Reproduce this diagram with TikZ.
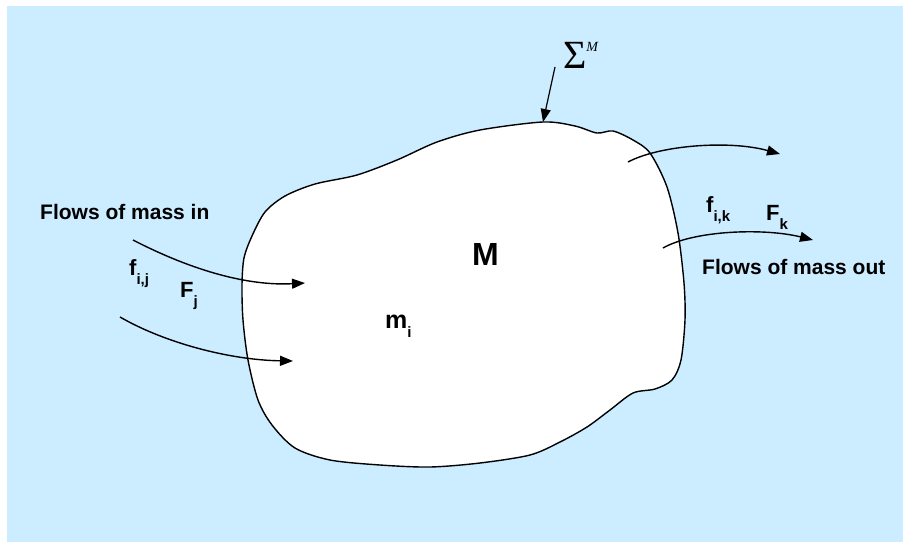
\documentclass[tikz,border=0pt]{standalone}
\usepackage{fontspec}
\setmainfont{Liberation Sans}
\newfontfamily\sigmafont{Liberation Serif}
\usepackage{tikz}
\usetikzlibrary{arrows.meta}
\definecolor{skyback}{RGB}{204,236,255}
\newcommand{\flowsub}[1]{\raisebox{-9pt}{\fontsize{15}{15}\selectfont #1}}

\begin{document}
\begin{tikzpicture}[x=1pt,y=-1pt,>={Triangle[length=13pt,width=10pt]},
  lbl/.style={inner sep=0pt,anchor=base west,font=\fontsize{21}{25}\selectfont\bfseries},
  sym/.style={inner sep=0pt,anchor=base west,font=\fontsize{22}{26}\selectfont\bfseries},
  flow/.style={->,line width=1.4pt}]
  \useasboundingbox (0,0) rectangle (903,542);
  \fill[skyback] (7,6) rectangle (903,542);

  % control volume M
  \draw[line width=1.4pt,fill=white] plot[smooth cycle,tension=0.5] coordinates {
    (543,122) (575,126) (597,133) (613,131) (633,140) (650,153) (667,187)
    (678,233) (684,283) (685,320) (681,360) (672,380) (655,389) (633,393)
    (610,410) (587,427) (560,442) (530,455) (480,463) (430,467) (380,465)
    (330,460) (295,448) (272,425) (258,400) (248,360) (243,320) (242,285)
    (244,258) (252,236) (265,212) (285,196) (315,184) (357,175) (397,160)
    (437,142) (480,130)};

  % labels
  \node[sym,font=\fontsize{32}{36}\selectfont\bfseries] (bigM) at (472,265) {M};
  \node[sym,font=\fontsize{25}{28}\selectfont\bfseries] (mi) at (385,328) {m\flowsub{i}};
  \node[lbl] (inlbl) at (40,219) {Flows of mass in};
  \node[lbl] (outlbl) at (702,274) {Flows of mass out};
  \node[sym] (fij) at (129,275) {f\flowsub{i,j}};
  \node[sym] (Fj) at (180,297) {F\flowsub{j}};
  \node[sym] (fik) at (706,212) {f\flowsub{i,k}};
  \node[sym] (Fk) at (766,220) {F\flowsub{k}};
  \node[inner sep=0pt,anchor=base west,font=\sigmafont\fontsize{40}{40}\selectfont] (sig) at (563,68)
    {Σ\raisebox{17pt}{\fontsize{14}{14}\selectfont\itshape M}};

  % boundary arrow
  \coordinate (sigA) at (555,67);
  \coordinate (sigB) at (543,122);
  \draw[flow,line width=1.2pt] (sigA) -- (sigB);

  % flows in
  \coordinate (in1a) at (133,240);
  \coordinate (in1b) at (305,283);
  \coordinate (in2a) at (120,317);
  \coordinate (in2b) at (293,361);
  \draw[flow] (in1a) .. controls (195,272) and (250,286) .. (in1b);
  \draw[flow] (in2a) .. controls (165,343) and (230,360) .. (in2b);

  % flows out
  \coordinate (out1a) at (628,162);
  \coordinate (out1b) at (780,154);
  \coordinate (out2a) at (663,248);
  \coordinate (out2b) at (813,240);
  \draw[flow] (out1a) .. controls (660,145) and (730,140) .. (out1b);
  \draw[flow] (out2a) .. controls (695,230) and (765,228) .. (out2b);
\end{tikzpicture}
\end{document}
